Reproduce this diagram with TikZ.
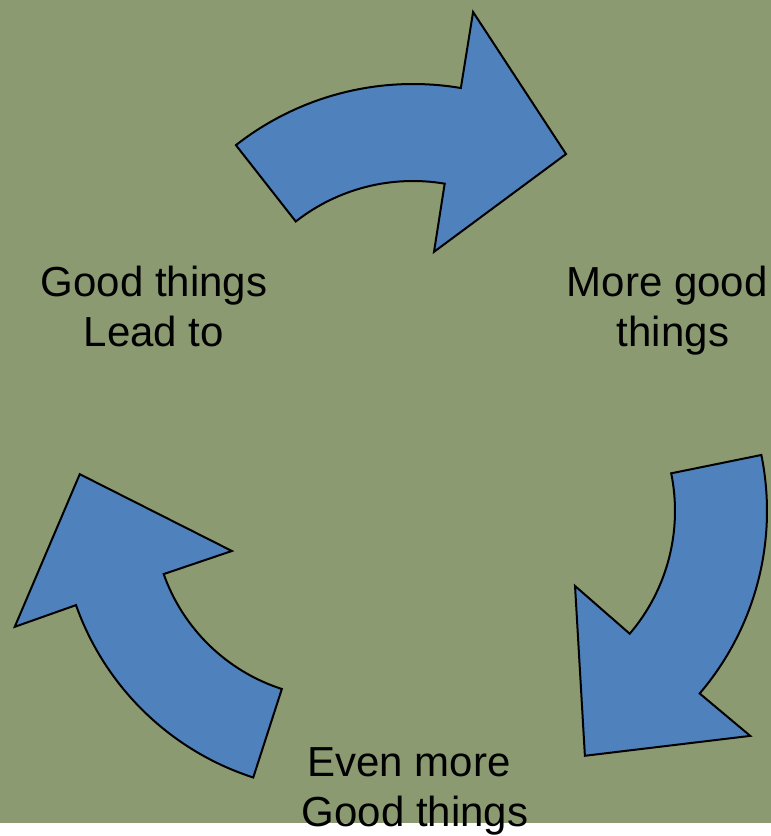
\documentclass[tikz,border=0pt]{standalone}
\usepackage{fontspec}
\setmainfont{Liberation Sans}
\usepackage{tikz}
\definecolor{olivebg}{RGB}{139,154,112}
\definecolor{arrowblue}{RGB}{79,129,189}

\begin{document}
\begin{tikzpicture}[
  x=1pt,y=1pt,
  cyc/.style={draw=black,line width=2pt,line join=miter,fill=arrowblue},
  txt/.style={anchor=north,inner sep=0pt,align=center,
    font=\fontsize{42}{50}\selectfont},
]
  \useasboundingbox (0,0) rectangle (771,836);
  \fill[olivebg] (0,13) rectangle (771,836);

  % the three curved arrows of the cycle
  \draw[cyc,shift={(413,465)}] (128.1:287) arc[start angle=128.1,end angle=80.4,radius=287]
    -- (80.5:364) -- (54.8:265.5) -- (80:121) -- (80.4:190)
    arc[start angle=80.4,end angle=128.1,radius=190] -- cycle;
  \draw[cyc,shift={(486,325)}] (11.5:281) arc[start angle=11.5,end angle=-40.5,radius=281]
    -- (-40.4:347) -- (-68:264) -- (-40.1:116.4) -- (-40.5:189)
    arc[start angle=-40.5,end angle=11.5,radius=189] -- cycle;
  \draw[cyc,shift={(339,324)}] (252.1:279) arc[start angle=252.1,end angle=199.5,radius=279]
    -- (199.5:344) -- (171.7:262) -- (200:114) -- (199.5:186)
    arc[start angle=199.5,end angle=252.1,radius=186] -- cycle;

  \node[txt] (lead) at (154,570.5) {Good things\\Lead to};
  \node[txt] (more) at (673,570) {More good\hspace*{.278em}\\things};
  \node[txt] (evenmore) at (415,89) {Even more\hspace*{.278em}\\Good things};
\end{tikzpicture}
\end{document}
